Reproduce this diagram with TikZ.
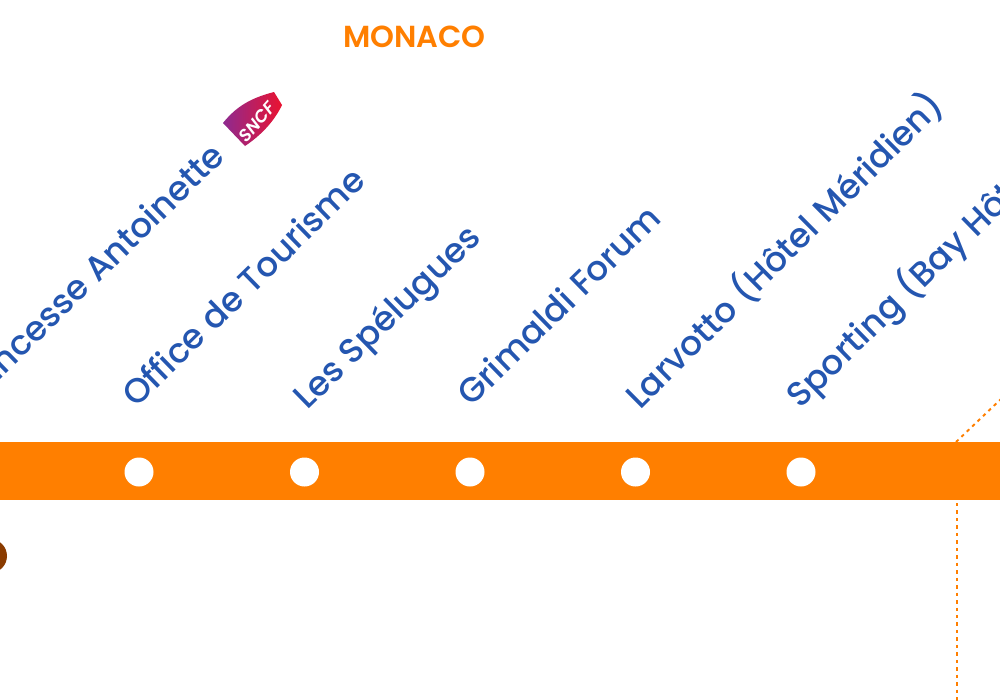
\documentclass[tikz,border=0pt]{standalone}
\usepackage{fontspec}
\setmainfont{Poppins}
\newfontfamily\labelfont{Poppins Medium}
\newfontfamily\titlefont{Poppins SemiBold}
\definecolor{lineorange}{HTML}{FF7F00}
\definecolor{labelblue}{HTML}{2456B0}
\definecolor{stopbrown}{HTML}{8A3B00}
\definecolor{sncfpurple}{HTML}{8E2A90}
\definecolor{sncfred}{HTML}{EA1330}
\tikzset{
  stoplabel/.style={text=labelblue,font=\labelfont\fontsize{25.7}{30}\selectfont,rotate=44.3,anchor=base west,inner sep=0pt},
  stopdot/.style={circle,fill=white,minimum size=21.75pt,inner sep=0pt},
  connector/.style={lineorange,line width=1.4pt,dash pattern=on 2.6pt off 3pt}
}
\begin{document}
\begin{tikzpicture}[x=0.75pt,y=-0.75pt]
\useasboundingbox (0,0) rectangle (1000,700);
\clip (0,0) rectangle (1000,700);
\fill[white] (0,0) rectangle (1000,700);
\node[text=lineorange,font=\titlefont\fontsize{22.8}{26}\selectfont,inner sep=0pt] (title) at (414.5,37) {MONACO};
\coordinate (topjoint) at (956,442);
\coordinate (topfree) at (1002,398);
\coordinate (botstart) at (957,503);
\coordinate (botfree) at (957,700);
\draw[connector] (topjoint) -- (topfree);
\draw[connector] (botstart) -- (botfree);
\fill[lineorange] (0,442) rectangle (1000,500);
\node[stopdot] (s1) at (139,472) {};
\node[stopdot] (s2) at (304.5,472) {};
\node[stopdot] (s3) at (470,472) {};
\node[stopdot] (s4) at (635.5,472) {};
\node[stopdot] (s5) at (801,472) {};
\node[circle,fill=stopbrown,minimum size=25.5pt,inner sep=0pt] (brown) at (-10,556) {};
\node[stoplabel] (l0) at (-26,405) {Princesse Antoinette};
\node[stoplabel] (l1) at (136,409) {Office de Tourisme};
\node[stoplabel] (l2) at (307,411) {Les Spélugues};
\node[stoplabel] (l3) at (471,408) {Grimaldi Forum};
\node[stoplabel,rotate=0.5] (l4) at (640,411) {Larvotto (Hôtel Méridien)};
\node[stoplabel] (l5) at (800,410) {Sporting (Bay Hôtel)};
\shade[left color=sncfpurple,middle color=sncfpurple!55!sncfred,right color=sncfred]
  (223,123) .. controls (238,104) and (255,97) .. (274,92) -- (282,105) .. controls (274,122) and (260,136) .. (245,146) -- cycle;
\node[text=white,font=\titlefont\itshape\fontsize{13}{15}\selectfont,rotate=48,inner sep=0pt] (sncf) at (257,122) {SNCF};
\end{tikzpicture}
\end{document}
